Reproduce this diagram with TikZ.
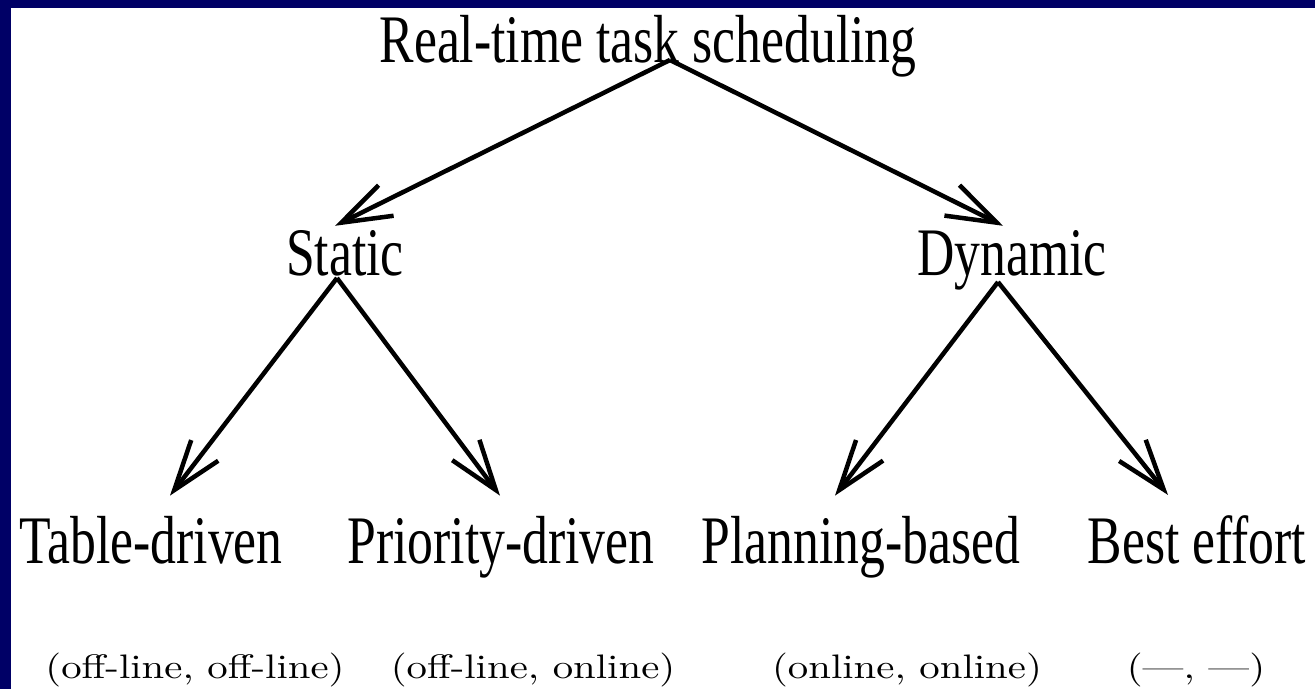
\documentclass[tikz,border=0pt]{standalone}
\usepackage{fontspec}
\newfontfamily\treefont{Liberation Serif}[FakeStretch=0.76]
\newfontfamily\notefont{lmroman10-regular.otf}[FakeStretch=1.2,Ligatures=TeX]
\usetikzlibrary{arrows.meta}
\definecolor{slidenavy}{RGB}{0,0,102}

\begin{document}
\begin{tikzpicture}[
    x=1pt,
    y=-1pt,
    every node/.style={
      inner sep=0pt,
      anchor=base},
    topic/.style={
      font={\treefont\fontsize{68}{72}\selectfont}},
    mode/.style={
      font={\notefont\fontsize{34}{38}\selectfont}},
    branch/.style={
      -{Straight Barb[length=50pt,width=34pt]},
      line width=4.5pt},
  ]
  % slide frame
  \useasboundingbox (0,0) rectangle (1315,689);
  \fill[slidenavy] (0,0) rectangle (1315,689);
  \fill[white] (11,8) rectangle (1315,689);

  % classes
  \node[topic] (root) at (648,62) {Real-time task scheduling};
  \node[topic] (static) at (345,275) {Static};
  \node[topic] (dynamic) at (1012,275) {Dynamic};
  \node[topic] (table) at (151,563) {Table-driven};
  \node[topic] (priority) at (501,563) {Priority-driven};
  \node[topic] (planning) at (861,563) {Planning-based};
  \node[topic] (best) at (1197,563) {Best effort};

  % (schedulability, scheduling) pairs
  \node[mode] (tablemode) at (195,678) {(off-line, off-line)};
  \node[mode] (prioritymode) at (533,678) {(off-line, online)};
  \node[mode] (planningmode) at (907,678) {(online, online)};
  \node[mode] (bestmode) at (1196,678) {(---, ---)};

  \draw[branch] ([xshift=22pt,yshift=2pt]root.base)
    -- ([xshift=-10pt,yshift=4pt]static.north);
  \draw[branch] ([xshift=22pt,yshift=2pt]root.base)
    -- ([xshift=-9pt,yshift=4pt]dynamic.north);
  \draw[branch] ([xshift=-8pt,yshift=-3pt]static.base)
    -- ([xshift=19pt,yshift=20pt]table.north);
  \draw[branch] ([xshift=-8pt,yshift=-3pt]static.base)
    -- ([xshift=-1pt,yshift=20pt]priority.north);
  \draw[branch] ([xshift=-14pt,yshift=-7pt]dynamic.base)
    -- ([xshift=-26pt,yshift=20pt]planning.north);
  \draw[branch] ([xshift=-14pt,yshift=-7pt]dynamic.base)
    -- ([xshift=-29pt,yshift=20pt]best.north);
\end{tikzpicture}
\end{document}
